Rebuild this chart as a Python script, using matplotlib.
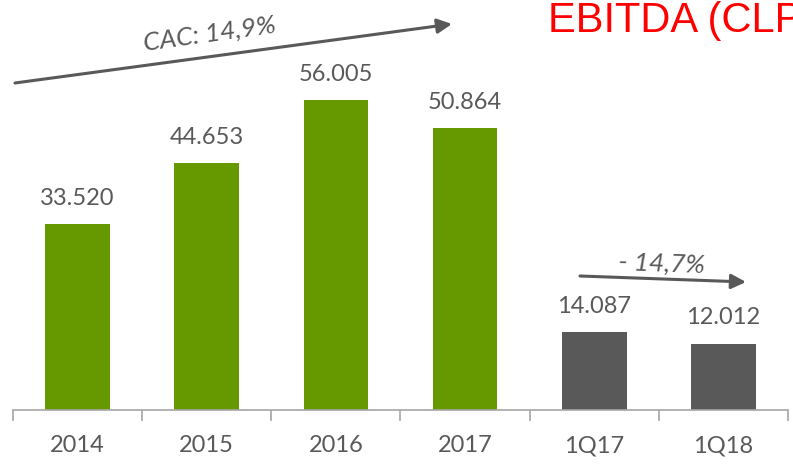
import matplotlib
matplotlib.use("Agg")
import matplotlib.pyplot as plt

# datos EBITDA
categories = ["2014", "2015", "2016", "2017", "1Q17", "1Q18"]
values = [33520, 44653, 56005, 50864, 14087, 12012]
labels = ["33.520", "44.653", "56.005", "50.864", "14.087", "12.012"]
colors = ["#669900"] * 4 + ["#595959"] * 2

TXT = "#595959"
W, H = 793, 466

fig = plt.figure(figsize=(W / 100, H / 100), dpi=100)
ax = fig.add_axes([13 / W, 56 / H, 775 / W, 410 / H])

x = list(range(len(categories)))
ax.bar(x, values, width=0.5, color=colors)
for xi, v, lab in zip(x, values, labels):
    ax.annotate(lab, (xi, v), xytext=(0, 11), textcoords="offset points",
                ha="center", va="bottom", fontsize=17, color=TXT, family="Lato")

ax.set_xlim(-0.5, len(categories) - 0.5)
ax.set_ylim(0, 74070)
ax.set_yticks([])
ax.set_xticks(x)
ax.set_xticklabels(categories, fontsize=17, color=TXT, family="Lato")
ax.set_xticks([i - 0.5 for i in range(len(categories) + 1)], minor=True)
ax.tick_params(axis="x", which="major", length=0, pad=18)
ax.tick_params(axis="x", which="minor", length=8, color="#a6a6a6", width=1.2)
for s in ["top", "right", "left"]:
    ax.spines[s].set_visible(False)
ax.spines["bottom"].set_color("#a6a6a6")
ax.spines["bottom"].set_linewidth(1.2)

# flechas de variacion
arrow = dict(arrowstyle="-|>", color=TXT, lw=2.2, mutation_scale=22, shrinkA=0, shrinkB=0)
fig.add_artist(plt.Annotation("", xy=(452, 442), xytext=(15, 383),
                              xycoords="figure pixels", textcoords="figure pixels",
                              arrowprops=arrow))
fig.text(210 / W, 432 / H, "CAC: 14,9%", rotation=8, rotation_mode="anchor",
         ha="center", va="center", fontsize=19, style="italic", color=TXT, family="Lato")

fig.add_artist(plt.Annotation("", xy=(746, 184), xytext=(580, 190),
                              xycoords="figure pixels", textcoords="figure pixels",
                              arrowprops=arrow))
fig.text(662 / W, 202 / H, "- 14,7%", rotation=-2, rotation_mode="anchor",
         ha="center", va="center", fontsize=19, style="italic", color=TXT, family="Lato")

# titulo cortado en el borde, igual que en la lamina original
fig.text(548 / W, 434 / H, "EBITDA (CLP", ha="left", va="baseline",
         fontsize=30, color="red", family="Liberation Sans")

fig.savefig("out.png", dpi=100)
